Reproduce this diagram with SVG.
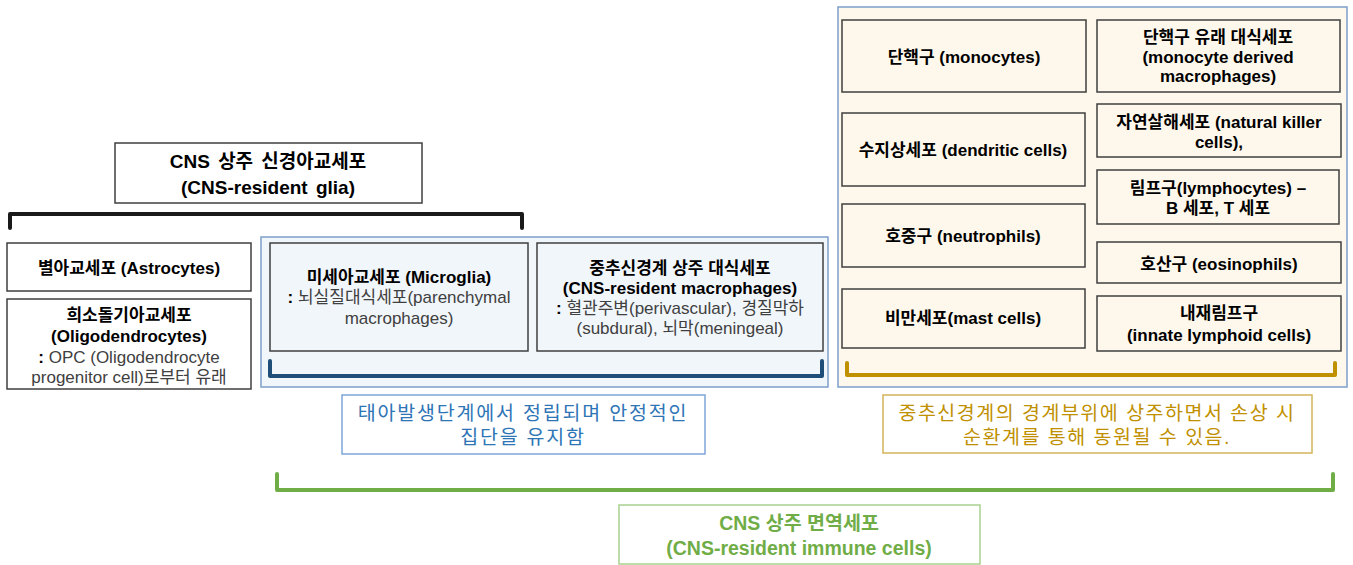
<svg xmlns="http://www.w3.org/2000/svg" width="1353" height="565" viewBox="0 0 1353 565">
<style>
text{font-family:"Liberation Sans","Noto Sans CJK KR",sans-serif;text-anchor:middle;dominant-baseline:central}
.box{fill:none;stroke:#3f3f3f;stroke-width:1.5}
.wbox{fill:#fff;stroke:#3f3f3f;stroke-width:1.5}
.b{font-size:17px;font-weight:bold;fill:#000}
.n{font-size:17px;fill:#404040}
.t{font-size:19px;font-weight:bold;fill:#000;word-spacing:3px}
.br{fill:none;stroke-width:4;stroke-linecap:round;stroke-linejoin:round}
.blue{font-size:19.5px;fill:#2e75b6;letter-spacing:1.8px}
.gold{font-size:19.5px;fill:#bf9000;letter-spacing:1.5px}
.green{font-size:19.5px;font-weight:bold;fill:#70ad47}
</style>
<rect width="1353" height="565" fill="#fff"/>

<g id="containers">
  <rect x="261" y="237" width="567" height="150" fill="#f1f6fb" stroke="#7c9fcb" stroke-width="1.5"/>
  <rect x="838" y="7" width="509" height="380" fill="#fef8ec" stroke="#7c9fcb" stroke-width="1.5"/>
</g>

<g id="connectors">
  <path class="br" stroke="#1a1a1a" d="M10,228 V214 H522 V228"/>
  <path class="br" stroke="#1f4e79" d="M270,361 V376 H822 V361"/>
  <path class="br" stroke="#bf9000" d="M847,363 V375 H1335 V363"/>
  <path class="br" stroke="#70ad47" d="M277,474 V490 H1333 V474"/>
</g>

<g id="glia-title">
  <rect class="wbox" x="115" y="143" width="307" height="60"/>
  <text class="t" x="268" y="161">CNS 상주 신경아교세포</text>
  <text class="t" x="268" y="187">(CNS-resident glia)</text>
</g>

<g id="astrocytes">
  <rect class="wbox" x="7" y="243" width="244" height="48"/>
  <text class="b" x="129" y="268">별아교세포 (Astrocytes)</text>
</g>

<g id="oligodendrocytes">
  <rect class="wbox" x="7" y="299" width="244" height="90"/>
  <text class="b" x="129" y="315">희소돌기아교세포</text>
  <text class="b" x="129" y="336">(Oligodendrocytes)</text>
  <text class="n" x="129" y="357"><tspan font-weight="bold" fill="#000">:</tspan> OPC (Oligodendrocyte</text>
  <text class="n" x="129" y="377">progenitor cell)로부터 유래</text>
</g>

<g id="microglia">
  <rect class="box" x="270" y="243" width="258" height="108"/>
  <text class="b" x="399" y="277">미세아교세포 (Microglia)</text>
  <text class="n" x="399" y="297"><tspan font-weight="bold" fill="#000">:</tspan> 뇌실질대식세포(parenchymal</text>
  <text class="n" x="399" y="318">macrophages)</text>
</g>

<g id="cns-macrophages">
  <rect class="box" x="537" y="243" width="286" height="108"/>
  <text class="b" x="680" y="268">중추신경계 상주 대식세포</text>
  <text class="b" x="680" y="288">(CNS-resident macrophages)</text>
  <text class="n" x="680" y="308"><tspan font-weight="bold" fill="#000">:</tspan> 혈관주변(perivascular), 경질막하</text>
  <text class="n" x="680" y="328">(subdural), 뇌막(meningeal)</text>
</g>

<g id="embryonic-note">
  <rect x="342" y="395" width="363" height="59" fill="#fff" stroke="#7ea6d8" stroke-width="1.5"/>
  <text class="blue" x="523" y="413">태아발생단계에서 정립되며 안정적인</text>
  <text class="blue" x="523" y="437">집단을 유지함</text>
</g>

<g id="monocytes">
  <rect class="box" x="842" y="20" width="244" height="72"/>
  <text class="b" x="964" y="57">단핵구 (monocytes)</text>
</g>
<g id="monocyte-derived-macrophages">
  <rect class="box" x="1097" y="20" width="243" height="72"/>
  <text class="b" x="1218" y="37">단핵구 유래 대식세포</text>
  <text class="b" x="1218" y="57">(monocyte derived</text>
  <text class="b" x="1218" y="76">macrophages)</text>
</g>
<g id="dendritic-cells">
  <rect class="box" x="842" y="113" width="243" height="73"/>
  <text class="b" x="963" y="150">수지상세포 (dendritic cells)</text>
</g>
<g id="nk-cells">
  <rect class="box" x="1097" y="104" width="244" height="53"/>
  <text class="b" x="1219" y="122">자연살해세포 (natural killer</text>
  <text class="b" x="1219" y="142">cells),</text>
</g>
<g id="lymphocytes">
  <rect class="box" x="1097" y="170" width="242" height="54"/>
  <text class="b" x="1218" y="188">림프구(lymphocytes) –</text>
  <text class="b" x="1218" y="208">B 세포, T 세포</text>
</g>
<g id="neutrophils">
  <rect class="box" x="842" y="204" width="243" height="63"/>
  <text class="b" x="963" y="236">호중구 (neutrophils)</text>
</g>
<g id="eosinophils">
  <rect class="box" x="1097" y="242" width="244" height="41"/>
  <text class="b" x="1219" y="264">호산구 (eosinophils)</text>
</g>
<g id="mast-cells">
  <rect class="box" x="842" y="289" width="243" height="59"/>
  <text class="b" x="963" y="318">비만세포(mast cells)</text>
</g>
<g id="ilc">
  <rect class="box" x="1097" y="296" width="244" height="55"/>
  <text class="b" x="1219" y="313">내재림프구</text>
  <text class="b" x="1219" y="335">(innate lymphoid cells)</text>
</g>

<g id="boundary-note">
  <rect x="883" y="395" width="429" height="58" fill="#fff" stroke="#d2b45a" stroke-width="1.5"/>
  <text class="gold" x="1097" y="413">중추신경계의 경계부위에 상주하면서 손상 시</text>
  <text class="gold" x="1097" y="437">순환계를 통해 동원될 수 있음.</text>
</g>

<g id="immune-cells-title">
  <rect x="619" y="505" width="361" height="59" fill="#fff" stroke="#a9d18e" stroke-width="1.5"/>
  <text class="green" x="799" y="523">CNS 상주 면역세포</text>
  <text class="green" x="799" y="548">(CNS-resident immune cells)</text>
</g>
</svg>
